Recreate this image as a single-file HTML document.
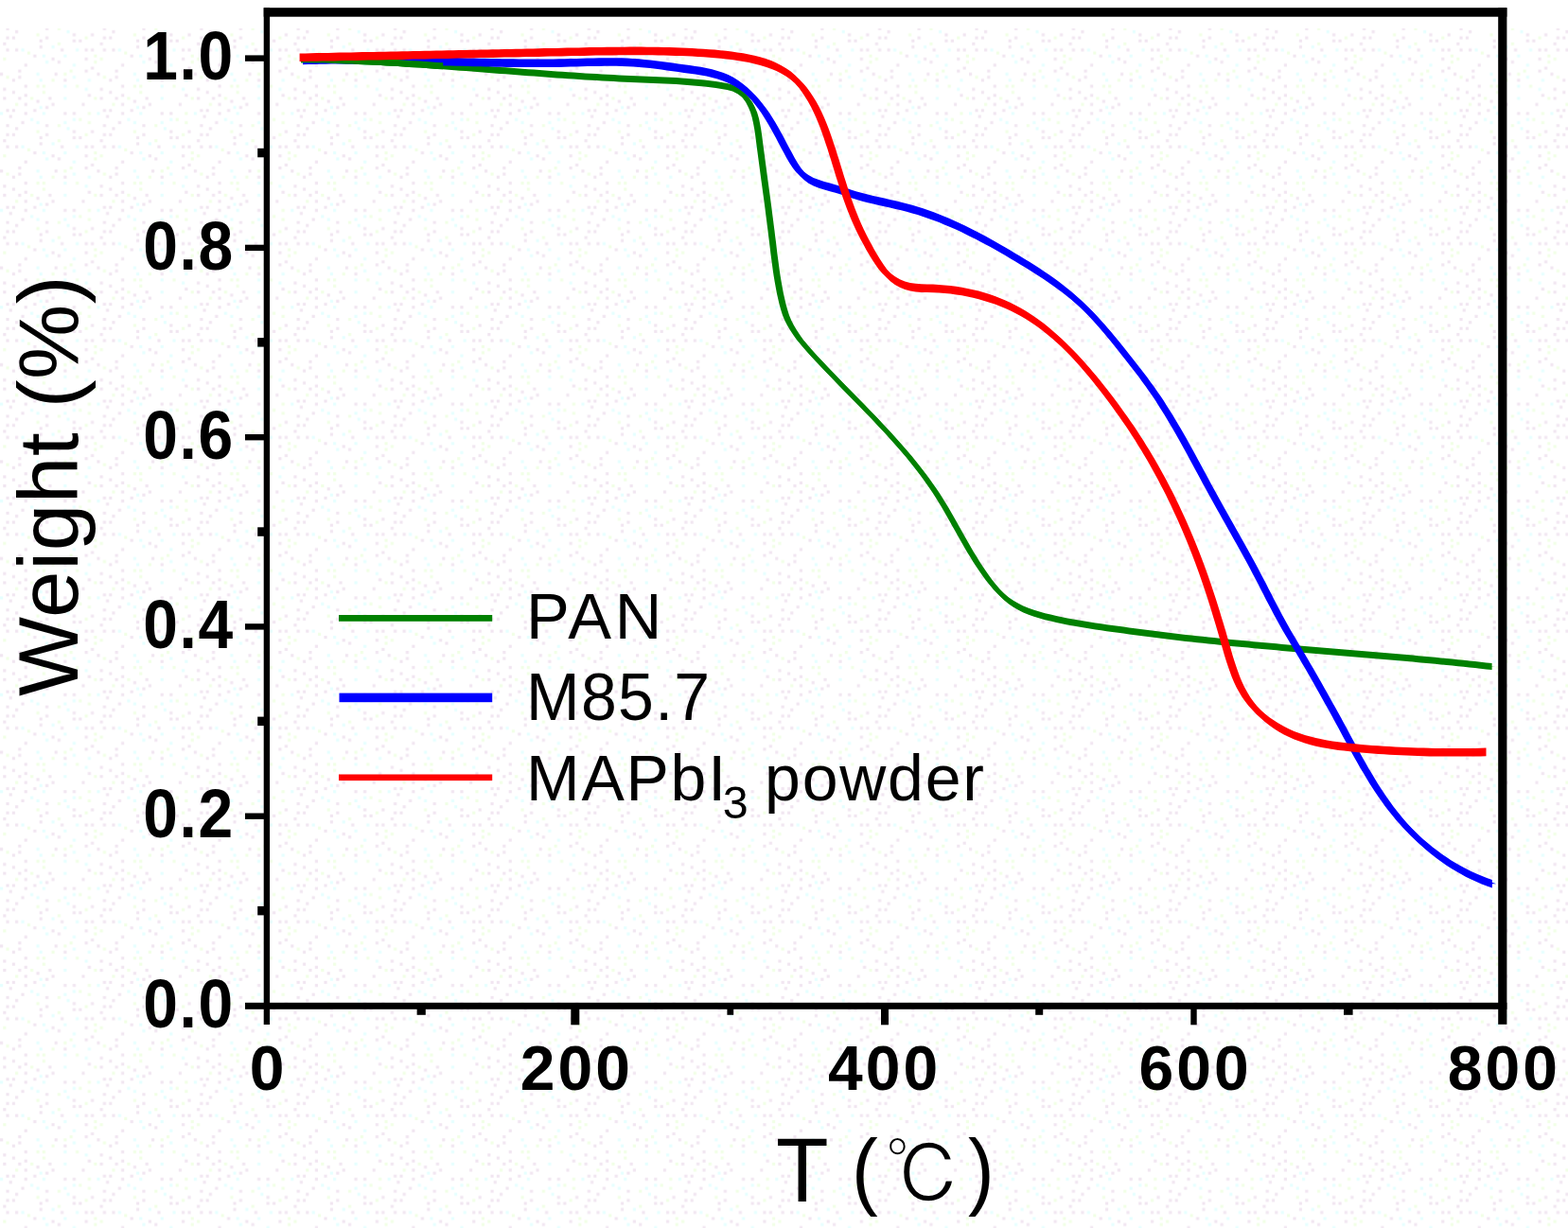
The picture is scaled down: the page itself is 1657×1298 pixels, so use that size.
<!DOCTYPE html>
<html lang="en">
<head>
<meta charset="utf-8">
<title>TGA weight vs temperature</title>
<style>
html,body{margin:0;padding:0;background:#fff}
body{width:1657px;height:1298px;overflow:hidden}
svg{display:block}
text{font-family:"Liberation Sans",sans-serif;fill:#000}
.b{font-weight:bold}
.c{font-family:"Liberation Sans","IPAGothic",sans-serif}
</style>
</head>
<body>
<svg width="1657" height="1298" viewBox="0 0 1657 1298">
<rect width="1657" height="1298" fill="#fff"/>
<defs><pattern id="dz" width="102.4" height="102.4" patternUnits="userSpaceOnUse"><rect x="89.6" y="92.8" width="3.2" height="3.2" fill="#e6ffff"/><rect x="38.4" y="35.2" width="3.2" height="3.2" fill="#f1ffe6"/><rect x="96" y="35.2" width="3.2" height="3.2" fill="#f1e6f1"/><rect x="89.6" y="60.8" width="3.2" height="3.2" fill="#f1e6f1"/><rect x="16" y="6.4" width="3.2" height="3.2" fill="#f1ffe6"/><rect x="80" y="89.6" width="3.2" height="3.2" fill="#f1ffe6"/><rect x="32" y="0" width="3.2" height="3.2" fill="#f1ffe6"/><rect x="6.4" y="38.4" width="3.2" height="3.2" fill="#f1e6f1"/><rect x="3.2" y="92.8" width="3.2" height="3.2" fill="#f1e6f1"/><rect x="89.6" y="38.4" width="3.2" height="3.2" fill="#f1ffe6"/><rect x="44.8" y="57.6" width="3.2" height="3.2" fill="#e6ffff"/><rect x="0" y="16" width="3.2" height="3.2" fill="#e6ffff"/><rect x="54.4" y="83.2" width="3.2" height="3.2" fill="#f1ffe6"/><rect x="16" y="51.2" width="3.2" height="3.2" fill="#f1e6f1"/><rect x="19.2" y="80" width="3.2" height="3.2" fill="#f1e6f1"/><rect x="57.6" y="76.8" width="3.2" height="3.2" fill="#f1e6f1"/><rect x="3.2" y="0" width="3.2" height="3.2" fill="#f1e6f1"/><rect x="41.6" y="9.6" width="3.2" height="3.2" fill="#e6ffff"/><rect x="76.8" y="80" width="3.2" height="3.2" fill="#e6ffff"/><rect x="12.8" y="38.4" width="3.2" height="3.2" fill="#f1e6f1"/><rect x="67.2" y="16" width="3.2" height="3.2" fill="#f1e6f1"/><rect x="67.2" y="0" width="3.2" height="3.2" fill="#e6ffff"/><rect x="22.4" y="25.6" width="3.2" height="3.2" fill="#f1e6f1"/><rect x="19.2" y="0" width="3.2" height="3.2" fill="#f1e6f1"/><rect x="92.8" y="99.2" width="3.2" height="3.2" fill="#f1e6f1"/><rect x="38.4" y="89.6" width="3.2" height="3.2" fill="#f1ffe6"/><rect x="38.4" y="25.6" width="3.2" height="3.2" fill="#e6ffff"/><rect x="76.8" y="22.4" width="3.2" height="3.2" fill="#e6ffff"/><rect x="83.2" y="41.6" width="3.2" height="3.2" fill="#f1e6f1"/><rect x="54.4" y="60.8" width="3.2" height="3.2" fill="#f1e6f1"/><rect x="6.4" y="28.8" width="3.2" height="3.2" fill="#f1e6f1"/><rect x="89.6" y="51.2" width="3.2" height="3.2" fill="#f1e6f1"/><rect x="67.2" y="57.6" width="3.2" height="3.2" fill="#e6ffff"/><rect x="12.8" y="12.8" width="3.2" height="3.2" fill="#f1e6f1"/><rect x="41.6" y="48" width="3.2" height="3.2" fill="#f1e6f1"/><rect x="73.6" y="73.6" width="3.2" height="3.2" fill="#f1ffe6"/><rect x="92.8" y="25.6" width="3.2" height="3.2" fill="#f1ffe6"/><rect x="76.8" y="35.2" width="3.2" height="3.2" fill="#f1e6f1"/><rect x="60.8" y="44.8" width="3.2" height="3.2" fill="#f1ffe6"/><rect x="48" y="38.4" width="3.2" height="3.2" fill="#f1e6f1"/><rect x="38.4" y="76.8" width="3.2" height="3.2" fill="#e6ffff"/><rect x="9.6" y="19.2" width="3.2" height="3.2" fill="#f1e6f1"/><rect x="6.4" y="51.2" width="3.2" height="3.2" fill="#f1e6f1"/><rect x="80" y="51.2" width="3.2" height="3.2" fill="#e6ffff"/><rect x="99.2" y="57.6" width="3.2" height="3.2" fill="#f1ffe6"/><rect x="35.2" y="12.8" width="3.2" height="3.2" fill="#f1e6f1"/><rect x="44.8" y="96" width="3.2" height="3.2" fill="#f1ffe6"/><rect x="41.6" y="41.6" width="3.2" height="3.2" fill="#f1e6f1"/><rect x="48" y="9.6" width="3.2" height="3.2" fill="#f1e6f1"/><rect x="35.2" y="57.6" width="3.2" height="3.2" fill="#f1e6f1"/><rect x="25.6" y="16" width="3.2" height="3.2" fill="#f1e6f1"/><rect x="25.6" y="89.6" width="3.2" height="3.2" fill="#f1e6f1"/><rect x="25.6" y="6.4" width="3.2" height="3.2" fill="#f1e6f1"/><rect x="96" y="70.4" width="3.2" height="3.2" fill="#f1e6f1"/><rect x="12.8" y="96" width="3.2" height="3.2" fill="#f1e6f1"/><rect x="60.8" y="64" width="3.2" height="3.2" fill="#f1e6f1"/><rect x="89.6" y="73.6" width="3.2" height="3.2" fill="#f1e6f1"/><rect x="25.6" y="67.2" width="3.2" height="3.2" fill="#f1e6f1"/><rect x="12.8" y="83.2" width="3.2" height="3.2" fill="#f1e6f1"/><rect x="99.2" y="0" width="3.2" height="3.2" fill="#f1ffe6"/><rect x="22.4" y="51.2" width="3.2" height="3.2" fill="#e6ffff"/><rect x="67.2" y="76.8" width="3.2" height="3.2" fill="#f1ffe6"/><rect x="92.8" y="16" width="3.2" height="3.2" fill="#f1ffe6"/><rect x="3.2" y="60.8" width="3.2" height="3.2" fill="#f1ffe6"/><rect x="3.2" y="44.8" width="3.2" height="3.2" fill="#f1e6f1"/><rect x="51.2" y="0" width="3.2" height="3.2" fill="#f1e6f1"/><rect x="60.8" y="28.8" width="3.2" height="3.2" fill="#f1ffe6"/><rect x="67.2" y="89.6" width="3.2" height="3.2" fill="#e6ffff"/><rect x="48" y="64" width="3.2" height="3.2" fill="#e6ffff"/><rect x="25.6" y="99.2" width="3.2" height="3.2" fill="#f1e6f1"/><rect x="6.4" y="12.8" width="3.2" height="3.2" fill="#f1e6f1"/><rect x="32" y="22.4" width="3.2" height="3.2" fill="#e6ffff"/><rect x="41.6" y="83.2" width="3.2" height="3.2" fill="#e6ffff"/><rect x="99.2" y="64" width="3.2" height="3.2" fill="#f1ffe6"/><rect x="54.4" y="6.4" width="3.2" height="3.2" fill="#f1e6f1"/><rect x="38.4" y="3.2" width="3.2" height="3.2" fill="#f1e6f1"/><rect x="48" y="28.8" width="3.2" height="3.2" fill="#f1e6f1"/><rect x="19.2" y="73.6" width="3.2" height="3.2" fill="#f1e6f1"/><rect x="96" y="51.2" width="3.2" height="3.2" fill="#f1e6f1"/><rect x="70.4" y="32" width="3.2" height="3.2" fill="#e6ffff"/><rect x="44.8" y="16" width="3.2" height="3.2" fill="#e6ffff"/><rect x="76.8" y="67.2" width="3.2" height="3.2" fill="#e6ffff"/><rect x="76.8" y="16" width="3.2" height="3.2" fill="#f1e6f1"/><rect x="64" y="51.2" width="3.2" height="3.2" fill="#f1e6f1"/><rect x="67.2" y="83.2" width="3.2" height="3.2" fill="#f1e6f1"/><rect x="86.4" y="6.4" width="3.2" height="3.2" fill="#f1e6f1"/><rect x="67.2" y="25.6" width="3.2" height="3.2" fill="#e6ffff"/><rect x="44.8" y="89.6" width="3.2" height="3.2" fill="#f1ffe6"/><rect x="76.8" y="41.6" width="3.2" height="3.2" fill="#f1e6f1"/><rect x="28.8" y="54.4" width="3.2" height="3.2" fill="#f1ffe6"/><rect x="83.2" y="22.4" width="3.2" height="3.2" fill="#f1ffe6"/><rect x="0" y="76.8" width="3.2" height="3.2" fill="#f1e6f1"/><rect x="6.4" y="80" width="3.2" height="3.2" fill="#f1ffe6"/><rect x="16" y="32" width="3.2" height="3.2" fill="#f1e6f1"/><rect x="92.8" y="83.2" width="3.2" height="3.2" fill="#e6ffff"/><rect x="54.4" y="48" width="3.2" height="3.2" fill="#e6ffff"/></pattern></defs><rect x="0" y="30" width="1657" height="1268" fill="url(#dz)"/>
<g>
<g fill="#008000"><path d="M318 59.2L324 59.3L330 59.4L336.1 59.5L342.1 59.6L348.1 59.8L354.1 60L360.1 60.2L366.1 60.4L372.2 60.6L378.2 60.9L384.2 61.2L390.2 61.5L396.2 61.8L402.2 62.1L408.2 62.4L414.2 62.8L420.2 63.1L426.2 63.5L432.2 63.9L438.2 64.2L444.2 64.6L450.2 65.1L456.2 65.5L462.2 65.9L468.2 66.3L474.2 66.8L480.2 67.2L486.2 67.7L492.2 68.1L498.2 68.6L504.2 69L510.2 69.5L516.2 69.9L522.2 70.4L528.2 70.9L534.2 71.3L540.2 71.8L546.2 72.3L552.2 72.7L558.2 73.2L564.2 73.6L570.2 74.1L576.2 74.5L582.2 74.9L588.2 75.4L594.3 75.8L600.3 76.2L606.3 76.6L612.3 77L618.3 77.4L624.3 77.7L630.3 78.1L636.3 78.5L642.3 78.8L648.3 79.1L654.3 79.4L660.3 79.7L666.4 80L672.4 80.3L678.4 80.5L684.4 80.7L690.4 81L696.4 81.2L702.5 81.5L708.5 81.8L714.5 82.1L720.5 82.5L726.5 82.9L732.5 83.4L738.5 83.9L744.5 84.6L750.4 85.3L756.4 86.1L762.4 87L768.3 88.1L774.1 89.6L779.5 92.2L784.3 95.8L788.4 100L791.7 104.8L794.4 109.9L796.6 115.3L798.3 121L799.6 126.9L800.7 133L801.6 139.1L802.4 145.3L803.2 151.4L804 157.5L804.8 163.5L805.6 169.5L806.4 175.5L807.2 181.4L808 187.4L808.8 193.3L809.6 199.2L810.4 205.1L811.2 211L812 216.9L812.7 222.8L813.5 228.7L814.2 234.6L815 240.5L815.7 246.5L816.5 252.4L817.2 258.4L817.9 264.4L818.7 270.4L819.5 276.4L820.3 282.4L821.2 288.5L822.2 294.4L823.3 300.4L824.4 306.4L825.7 312.3L827.1 318.2L828.7 324L830.5 329.7L832.8 335.2L835.5 340.5L838.5 345.6L841.8 350.6L845.3 355.4L849.1 360.1L853.1 364.7L857.1 369.3L861.2 373.7L865.4 378.2L869.5 382.5L873.7 386.9L877.8 391.2L882 395.6L886.2 399.9L890.3 404.2L894.5 408.4L898.7 412.7L902.9 417L907.1 421.3L911.3 425.6L915.5 429.9L919.7 434.3L923.9 438.6L928 443L932.2 447.4L936.3 451.8L940.4 456.2L944.4 460.7L948.4 465.2L952.4 469.7L956.3 474.2L960.2 478.8L964 483.5L967.8 488.2L971.5 492.9L975.2 497.7L978.7 502.5L982.2 507.4L985.6 512.3L989 517.3L992.2 522.3L995.4 527.4L998.5 532.6L1001.5 537.8L1004.5 543L1007.5 548.2L1010.4 553.5L1013.4 558.7L1016.3 564L1019.3 569.2L1022.3 574.5L1025.3 579.7L1028.5 584.8L1031.6 590L1034.9 595L1038.3 600.1L1041.8 605L1045.4 609.9L1049.1 614.6L1053 619.2L1057.1 623.6L1061.5 627.7L1066.1 631.4L1070.9 634.8L1076.1 637.8L1081.4 640.4L1087 642.7L1092.7 644.7L1098.5 646.6L1104.4 648.2L1110.3 649.6L1116.3 651L1122.2 652.3L1128.1 653.5L1134 654.6L1139.9 655.6L1145.8 656.6L1151.8 657.6L1157.7 658.5L1163.6 659.3L1169.5 660.2L1175.4 661L1181.4 661.8L1187.3 662.6L1193.3 663.4L1199.3 664.2L1205.2 665L1211.2 665.8L1217.2 666.6L1223.2 667.3L1229.1 668L1235.1 668.8L1241.1 669.5L1247.1 670.2L1253.1 670.9L1259.1 671.5L1265 672.2L1271 672.8L1277 673.5L1283 674.1L1289 674.7L1295 675.3L1301 675.9L1307 676.5L1312.9 677.1L1318.9 677.6L1324.9 678.2L1330.9 678.7L1336.9 679.3L1342.9 679.8L1348.9 680.3L1354.9 680.9L1360.9 681.4L1366.9 681.9L1372.9 682.4L1378.9 682.9L1384.9 683.4L1390.9 683.9L1396.8 684.4L1402.8 684.9L1408.8 685.4L1414.8 685.9L1420.8 686.4L1426.8 686.9L1432.8 687.4L1438.8 687.9L1444.8 688.5L1450.8 689L1456.8 689.5L1462.8 690L1468.8 690.5L1474.8 691L1480.8 691.6L1486.8 692.1L1492.8 692.6L1498.8 693.2L1504.7 693.7L1510.7 694.3L1516.7 694.8L1522.7 695.4L1528.7 696L1534.7 696.6L1540.7 697.2L1546.7 697.8L1552.7 698.4L1558.6 699.1L1564.6 699.7L1570.6 700.4L1576.6 701.1L1576.6 708.1L1570.6 707.4L1564.6 706.7L1558.6 706.1L1552.7 705.4L1546.7 704.8L1540.7 704.2L1534.7 703.6L1528.7 703L1522.7 702.4L1516.7 701.8L1510.7 701.3L1504.7 700.7L1498.8 700.2L1492.8 699.6L1486.8 699.1L1480.8 698.6L1474.8 698L1468.8 697.5L1462.8 697L1456.8 696.5L1450.8 696L1444.8 695.5L1438.8 694.9L1432.8 694.4L1426.8 693.9L1420.8 693.4L1414.8 692.9L1408.8 692.4L1402.8 691.9L1396.8 691.4L1390.9 690.9L1384.9 690.4L1378.9 689.9L1372.9 689.4L1366.9 688.9L1360.9 688.4L1354.9 687.9L1348.9 687.3L1342.9 686.8L1336.9 686.3L1330.9 685.7L1324.9 685.2L1318.9 684.6L1312.9 684.1L1307 683.5L1301 682.9L1295 682.3L1289 681.7L1283 681.1L1277 680.5L1271 679.8L1265 679.2L1259.1 678.5L1253.1 677.9L1247.1 677.2L1241.1 676.5L1235.1 675.8L1229.1 675L1223.2 674.3L1217.2 673.6L1211.2 672.8L1205.2 672L1199.3 671.2L1193.3 670.4L1187.3 669.6L1181.4 668.8L1175.4 668L1169.5 667.2L1163.6 666.3L1157.7 665.5L1151.8 664.6L1145.8 663.6L1139.9 662.6L1134 661.6L1128.1 660.5L1122.2 659.3L1116.3 658L1110.3 656.6L1104.4 655.2L1098.5 653.6L1092.7 651.7L1087 649.7L1081.4 647.4L1076.1 644.8L1070.9 641.8L1066.1 638.4L1061.5 634.7L1057.1 630.6L1053 626.2L1049.1 621.6L1045.4 616.9L1041.8 612L1038.3 607.1L1034.9 602L1031.6 597L1028.5 591.8L1025.3 586.7L1022.3 581.5L1019.3 576.2L1016.3 571L1013.4 565.7L1010.4 560.5L1007.5 555.2L1004.5 550L1001.5 544.8L998.5 539.6L995.4 534.4L992.2 529.3L989 524.3L985.6 519.3L982.2 514.4L978.7 509.5L975.2 504.7L971.5 499.9L967.8 495.2L964 490.5L960.2 485.8L956.3 481.2L952.4 476.7L948.4 472.2L944.4 467.7L940.4 463.2L936.3 458.8L932.2 454.4L928 450L923.9 445.6L919.7 441.3L915.5 436.9L911.3 432.6L907.1 428.3L902.9 424L898.7 419.7L894.5 415.4L890.3 411.2L886.2 406.9L882 402.6L877.8 398.2L873.7 393.9L869.5 389.5L865.4 385.2L861.2 380.7L857.1 376.3L853.1 371.7L849.1 367.1L845.3 362.4L841.8 357.6L838.5 352.6L835.5 347.5L832.8 342.2L830.5 336.7L828.7 331L827.1 325.2L825.7 319.3L824.4 313.4L823.3 307.4L822.2 301.4L821.2 295.5L820.3 289.4L819.5 283.4L818.7 277.4L817.9 271.4L817.2 265.4L816.5 259.4L815.7 253.5L815 247.5L814.2 241.6L813.5 235.7L812.7 229.8L812 223.9L811.2 218L810.4 212.1L809.6 206.2L808.8 200.3L808 194.4L807.2 188.4L806.4 182.5L805.6 176.5L804.8 170.5L804 164.5L803.2 158.4L802.4 152.3L801.6 146.1L800.7 140L799.6 133.9L798.3 128L796.6 122.3L794.4 116.9L791.7 111.8L788.4 107L784.3 102.8L779.5 99.2L774.1 96.6L768.3 95.1L762.4 94L756.4 93.1L750.4 92.3L744.5 91.6L738.5 90.9L732.5 90.4L726.5 89.9L720.5 89.5L714.5 89.1L708.5 88.8L702.5 88.5L696.4 88.2L690.4 88L684.4 87.7L678.4 87.5L672.4 87.3L666.4 87L660.3 86.7L654.3 86.4L648.3 86.1L642.3 85.8L636.3 85.5L630.3 85.1L624.3 84.7L618.3 84.4L612.3 84L606.3 83.6L600.3 83.2L594.3 82.8L588.2 82.4L582.2 81.9L576.2 81.5L570.2 81.1L564.2 80.6L558.2 80.2L552.2 79.7L546.2 79.3L540.2 78.8L534.2 78.3L528.2 77.9L522.2 77.4L516.2 76.9L510.2 76.5L504.2 76L498.2 75.6L492.2 75.1L486.2 74.7L480.2 74.2L474.2 73.8L468.2 73.3L462.2 72.9L456.2 72.5L450.2 72.1L444.2 71.6L438.2 71.2L432.2 70.9L426.2 70.5L420.2 70.1L414.2 69.8L408.2 69.4L402.2 69.1L396.2 68.8L390.2 68.5L384.2 68.2L378.2 67.9L372.2 67.6L366.1 67.4L360.1 67.2L354.1 67L348.1 66.8L342.1 66.6L336.1 66.5L330 66.4L324 66.3L318 66.2Z"/><path d="M314.5 62.7L320.5 62.8L326.5 62.9L332.6 63L338.6 63.1L344.6 63.3L350.6 63.5L356.6 63.7L362.6 63.9L368.7 64.1L374.7 64.4L380.7 64.7L386.7 65L392.7 65.3L398.7 65.6L404.7 65.9L410.7 66.3L416.7 66.6L422.7 67L428.7 67.4L434.7 67.7L440.7 68.1L446.7 68.6L452.7 69L458.7 69.4L464.7 69.8L470.7 70.3L476.7 70.7L482.7 71.2L488.7 71.6L494.7 72.1L500.7 72.5L506.7 73L512.7 73.4L518.7 73.9L524.7 74.4L530.7 74.8L536.7 75.3L542.7 75.8L548.7 76.2L554.7 76.7L560.7 77.1L566.7 77.6L572.7 78L578.7 78.4L584.7 78.9L590.8 79.3L596.8 79.7L602.8 80.1L608.8 80.5L614.8 80.9L620.8 81.2L626.8 81.6L632.8 82L638.8 82.3L644.8 82.6L650.8 82.9L656.8 83.2L662.9 83.5L668.9 83.8L674.9 84L680.9 84.2L686.9 84.5L692.9 84.7L699 85L705 85.3L711 85.6L717 86L723 86.4L729 86.9L735 87.4L741 88.1L746.9 88.8L752.9 89.6L758.9 90.5L764.8 91.6L770.6 93.1L776 95.7L780.8 99.3L784.9 103.5L788.2 108.3L790.9 113.4L793.1 118.8L794.8 124.5L796.1 130.4L797.2 136.5L798.1 142.6L798.9 148.8L799.7 154.9L800.5 161L801.3 167L802.1 173L802.9 179L803.7 184.9L804.5 190.9L805.3 196.8L806.1 202.7L806.9 208.6L807.7 214.5L808.5 220.4L809.2 226.3L810 232.2L810.7 238.1L811.5 244L812.2 250L813 255.9L813.7 261.9L814.4 267.9L815.2 273.9L816 279.9L816.8 285.9L817.7 292L818.7 297.9L819.8 303.9L820.9 309.9L822.2 315.8L823.6 321.7L825.2 327.5L827 333.2L829.3 338.7L832 344L835 349.1L838.3 354.1L841.8 358.9L845.6 363.6L849.6 368.2L853.6 372.8L857.7 377.2L861.9 381.7L866 386L870.2 390.4L874.3 394.7L878.5 399.1L882.7 403.4L886.8 407.7L891 411.9L895.2 416.2L899.4 420.5L903.6 424.8L907.8 429.1L912 433.4L916.2 437.8L920.4 442.1L924.5 446.5L928.7 450.9L932.8 455.3L936.9 459.7L940.9 464.2L944.9 468.7L948.9 473.2L952.8 477.7L956.7 482.3L960.5 487L964.3 491.7L968 496.4L971.7 501.2L975.2 506L978.7 510.9L982.1 515.8L985.5 520.8L988.7 525.8L991.9 530.9L995 536.1L998 541.3L1001 546.5L1004 551.7L1006.9 557L1009.9 562.2L1012.8 567.5L1015.8 572.7L1018.8 578L1021.8 583.2L1025 588.3L1028.1 593.5L1031.4 598.5L1034.8 603.6L1038.3 608.5L1041.9 613.4L1045.6 618.1L1049.5 622.7L1053.6 627.1L1058 631.2L1062.6 634.9L1067.4 638.3L1072.6 641.3L1077.9 643.9L1083.5 646.2L1089.2 648.2L1095 650.1L1100.9 651.7L1106.8 653.1L1112.8 654.5L1118.7 655.8L1124.6 657L1130.5 658.1L1136.4 659.1L1142.3 660.1L1148.3 661.1L1154.2 662L1160.1 662.8L1166 663.7L1171.9 664.5L1177.9 665.3L1183.8 666.1L1189.8 666.9L1195.8 667.7L1201.7 668.5L1207.7 669.3L1213.7 670.1L1219.7 670.8L1225.6 671.5L1231.6 672.3L1237.6 673L1243.6 673.7L1249.6 674.4L1255.6 675L1261.5 675.7L1267.5 676.3L1273.5 677L1279.5 677.6L1285.5 678.2L1291.5 678.8L1297.5 679.4L1303.5 680L1309.4 680.6L1315.4 681.1L1321.4 681.7L1327.4 682.2L1333.4 682.8L1339.4 683.3L1345.4 683.8L1351.4 684.4L1357.4 684.9L1363.4 685.4L1369.4 685.9L1375.4 686.4L1381.4 686.9L1387.4 687.4L1393.3 687.9L1399.3 688.4L1405.3 688.9L1411.3 689.4L1417.3 689.9L1423.3 690.4L1429.3 690.9L1435.3 691.4L1441.3 692L1447.3 692.5L1453.3 693L1459.3 693.5L1465.3 694L1471.3 694.5L1477.3 695.1L1483.3 695.6L1489.3 696.1L1495.3 696.7L1501.2 697.2L1507.2 697.8L1513.2 698.3L1519.2 698.9L1525.2 699.5L1531.2 700.1L1537.2 700.7L1543.2 701.3L1549.2 701.9L1555.1 702.6L1561.1 703.2L1567.1 703.9L1573.1 704.6L1580.1 704.6L1574.1 703.9L1568.1 703.2L1562.1 702.6L1556.2 701.9L1550.2 701.3L1544.2 700.7L1538.2 700.1L1532.2 699.5L1526.2 698.9L1520.2 698.3L1514.2 697.8L1508.2 697.2L1502.3 696.7L1496.3 696.1L1490.3 695.6L1484.3 695.1L1478.3 694.5L1472.3 694L1466.3 693.5L1460.3 693L1454.3 692.5L1448.3 692L1442.3 691.4L1436.3 690.9L1430.3 690.4L1424.3 689.9L1418.3 689.4L1412.3 688.9L1406.3 688.4L1400.3 687.9L1394.4 687.4L1388.4 686.9L1382.4 686.4L1376.4 685.9L1370.4 685.4L1364.4 684.9L1358.4 684.4L1352.4 683.8L1346.4 683.3L1340.4 682.8L1334.4 682.2L1328.4 681.7L1322.4 681.1L1316.4 680.6L1310.5 680L1304.5 679.4L1298.5 678.8L1292.5 678.2L1286.5 677.6L1280.5 677L1274.5 676.3L1268.5 675.7L1262.6 675L1256.6 674.4L1250.6 673.7L1244.6 673L1238.6 672.3L1232.6 671.5L1226.7 670.8L1220.7 670.1L1214.7 669.3L1208.7 668.5L1202.8 667.7L1196.8 666.9L1190.8 666.1L1184.9 665.3L1178.9 664.5L1173 663.7L1167.1 662.8L1161.2 662L1155.3 661.1L1149.3 660.1L1143.4 659.1L1137.5 658.1L1131.6 657L1125.7 655.8L1119.8 654.5L1113.8 653.1L1107.9 651.7L1102 650.1L1096.2 648.2L1090.5 646.2L1084.9 643.9L1079.6 641.3L1074.4 638.3L1069.6 634.9L1065 631.2L1060.6 627.1L1056.5 622.7L1052.6 618.1L1048.9 613.4L1045.3 608.5L1041.8 603.6L1038.4 598.5L1035.1 593.5L1032 588.3L1028.8 583.2L1025.8 578L1022.8 572.7L1019.8 567.5L1016.9 562.2L1013.9 557L1011 551.7L1008 546.5L1005 541.3L1002 536.1L998.9 530.9L995.7 525.8L992.5 520.8L989.1 515.8L985.7 510.9L982.2 506L978.7 501.2L975 496.4L971.3 491.7L967.5 487L963.7 482.3L959.8 477.7L955.9 473.2L951.9 468.7L947.9 464.2L943.9 459.7L939.8 455.3L935.7 450.9L931.5 446.5L927.4 442.1L923.2 437.8L919 433.4L914.8 429.1L910.6 424.8L906.4 420.5L902.2 416.2L898 411.9L893.8 407.7L889.7 403.4L885.5 399.1L881.3 394.7L877.2 390.4L873 386L868.9 381.7L864.7 377.2L860.6 372.8L856.6 368.2L852.6 363.6L848.8 358.9L845.3 354.1L842 349.1L839 344L836.3 338.7L834 333.2L832.2 327.5L830.6 321.7L829.2 315.8L827.9 309.9L826.8 303.9L825.7 297.9L824.7 292L823.8 285.9L823 279.9L822.2 273.9L821.4 267.9L820.7 261.9L820 255.9L819.2 250L818.5 244L817.7 238.1L817 232.2L816.2 226.3L815.5 220.4L814.7 214.5L813.9 208.6L813.1 202.7L812.3 196.8L811.5 190.9L810.7 184.9L809.9 179L809.1 173L808.3 167L807.5 161L806.7 154.9L805.9 148.8L805.1 142.6L804.2 136.5L803.1 130.4L801.8 124.5L800.1 118.8L797.9 113.4L795.2 108.3L791.9 103.5L787.8 99.3L783 95.7L777.6 93.1L771.8 91.6L765.9 90.5L759.9 89.6L753.9 88.8L748 88.1L742 87.4L736 86.9L730 86.4L724 86L718 85.6L712 85.3L706 85L699.9 84.7L693.9 84.5L687.9 84.2L681.9 84L675.9 83.8L669.9 83.5L663.8 83.2L657.8 82.9L651.8 82.6L645.8 82.3L639.8 82L633.8 81.6L627.8 81.2L621.8 80.9L615.8 80.5L609.8 80.1L603.8 79.7L597.8 79.3L591.7 78.9L585.7 78.4L579.7 78L573.7 77.6L567.7 77.1L561.7 76.7L555.7 76.2L549.7 75.8L543.7 75.3L537.7 74.8L531.7 74.4L525.7 73.9L519.7 73.4L513.7 73L507.7 72.5L501.7 72.1L495.7 71.6L489.7 71.2L483.7 70.7L477.7 70.3L471.7 69.8L465.7 69.4L459.7 69L453.7 68.6L447.7 68.1L441.7 67.7L435.7 67.4L429.7 67L423.7 66.6L417.7 66.3L411.7 65.9L405.7 65.6L399.7 65.3L393.7 65L387.7 64.7L381.7 64.4L375.7 64.1L369.6 63.9L363.6 63.7L357.6 63.5L351.6 63.3L345.6 63.1L339.6 63L333.5 62.9L327.5 62.8L321.5 62.7Z"/></g>
<g fill="#0000ff"><path d="M320 59.7L326 59.5L332.1 59.3L338.1 59.2L344.1 59.1L350.1 59L356.2 58.9L362.2 58.9L368.2 58.9L374.2 58.9L380.2 58.9L386.3 59L392.3 59L398.3 59.1L404.3 59.2L410.3 59.3L416.3 59.4L422.3 59.5L428.4 59.7L434.4 59.8L440.4 59.9L446.4 60.1L452.4 60.3L458.4 60.4L464.4 60.6L470.4 60.8L476.5 60.9L482.5 61.1L488.5 61.2L494.5 61.4L500.5 61.6L506.5 61.7L512.5 61.8L518.5 62L524.6 62.1L530.6 62.2L536.6 62.3L542.6 62.3L548.6 62.4L554.7 62.4L560.7 62.5L566.7 62.5L572.7 62.5L578.7 62.4L584.8 62.4L590.8 62.3L596.8 62.2L602.9 62L608.9 61.9L614.9 61.7L621 61.5L627 61.4L633 61.3L639 61.2L645.1 61.2L651.1 61.2L657.1 61.3L663.1 61.6L669.1 61.9L675.1 62.3L681 62.9L687 63.5L693 64.2L698.9 65L704.9 65.8L710.9 66.6L716.8 67.5L722.8 68.3L728.8 69.1L734.8 69.9L740.7 70.8L746.6 71.9L752.5 73.3L758.3 74.9L764 76.8L769.6 79.1L775 81.8L780.1 84.9L784.9 88.5L789.5 92.3L793.9 96.5L798 100.9L801.8 105.6L805.5 110.4L808.9 115.3L812.2 120.4L815.3 125.5L818.3 130.7L821.2 136L824.1 141.2L826.9 146.6L829.7 151.9L832.6 157.3L835.5 162.7L838.6 167.9L841.9 172.9L845.6 177.6L849.8 181.7L854.4 185.1L859.7 187.9L865.3 190.1L871.1 191.9L877 193.6L882.8 195.2L888.6 196.9L894.2 198.7L899.8 200.7L905.4 202.5L911.2 204.1L917 205.6L922.8 207L928.7 208.3L934.6 209.6L940.5 210.9L946.4 212.3L952.3 213.7L958.1 215.2L964 216.8L969.7 218.5L975.4 220.3L981.1 222.3L986.8 224.3L992.4 226.5L997.9 228.8L1003.5 231.1L1008.9 233.5L1014.4 236L1019.8 238.6L1025.2 241.3L1030.6 244L1036 246.8L1041.3 249.6L1046.6 252.5L1051.9 255.5L1057.1 258.5L1062.4 261.5L1067.6 264.6L1072.8 267.7L1078 270.8L1083.2 273.9L1088.3 277.1L1093.4 280.3L1098.5 283.6L1103.5 287L1108.5 290.3L1113.5 293.8L1118.3 297.3L1123.1 301L1127.8 304.7L1132.5 308.5L1137 312.4L1141.5 316.4L1145.8 320.5L1150.1 324.7L1154.2 329L1158.3 333.4L1162.4 337.9L1166.3 342.4L1170.2 347L1174.1 351.6L1177.9 356.3L1181.7 361L1185.5 365.7L1189.2 370.5L1193 375.2L1196.7 380L1200.4 384.7L1204.1 389.5L1207.8 394.3L1211.3 399.1L1214.9 404L1218.3 408.9L1221.7 413.8L1225.1 418.8L1228.3 423.9L1231.5 428.9L1234.7 434L1237.8 439.2L1240.9 444.4L1243.9 449.5L1246.9 454.8L1249.9 460L1252.8 465.3L1255.7 470.5L1258.6 475.8L1261.5 481.1L1264.4 486.4L1267.2 491.7L1270.1 497L1272.9 502.3L1275.8 507.6L1278.7 512.9L1281.6 518.2L1284.5 523.5L1287.4 528.7L1290.3 534L1293.3 539.2L1296.2 544.5L1299.2 549.7L1302.1 554.9L1305.1 560.2L1308 565.4L1311 570.7L1313.9 575.9L1316.8 581.2L1319.7 586.5L1322.6 591.8L1325.4 597L1328.2 602.4L1331 607.7L1333.8 613L1336.5 618.4L1339.3 623.8L1342 629.1L1344.8 634.5L1347.6 639.8L1350.4 645.1L1353.3 650.4L1356.2 655.7L1359.1 660.9L1362.2 666.1L1365.2 671.2L1368.3 676.4L1371.4 681.6L1374.4 686.8L1377.5 691.9L1380.5 697.1L1383.5 702.3L1386.5 707.5L1389.5 712.7L1392.5 718L1395.4 723.2L1398.4 728.4L1401.3 733.7L1404.2 738.9L1407.2 744.2L1410.1 749.5L1413 754.7L1415.8 760L1418.7 765.3L1421.6 770.6L1424.4 776L1427.3 781.3L1430.2 786.6L1433.1 791.9L1436 797.1L1439 802.4L1441.9 807.6L1445 812.8L1448.1 817.9L1451.2 823.1L1454.4 828.1L1457.7 833.2L1461.1 838.1L1464.5 843L1468 847.9L1471.7 852.6L1475.4 857.3L1479.2 862L1483.2 866.5L1487.3 870.9L1491.5 875.3L1495.8 879.5L1500.2 883.7L1504.7 887.7L1509.3 891.6L1514 895.5L1518.8 899.1L1523.7 902.7L1528.6 906.1L1533.7 909.4L1538.8 912.5L1544.1 915.5L1549.3 918.3L1554.7 921L1560.2 923.5L1565.7 925.8L1571.2 927.9L1576.9 929.9L1576.9 938.5L1571.2 936.5L1565.7 934.4L1560.2 932.1L1554.7 929.6L1549.3 926.9L1544.1 924.1L1538.8 921.1L1533.7 918L1528.6 914.7L1523.7 911.3L1518.8 907.7L1514 904.1L1509.3 900.2L1504.7 896.3L1500.2 892.3L1495.8 888.1L1491.5 883.9L1487.3 879.5L1483.2 875.1L1479.2 870.6L1475.4 865.9L1471.7 861.2L1468 856.5L1464.5 851.6L1461.1 846.7L1457.7 841.8L1454.4 836.7L1451.2 831.7L1448.1 826.5L1445 821.4L1441.9 816.2L1439 811L1436 805.7L1433.1 800.5L1430.2 795.2L1427.3 789.9L1424.4 784.6L1421.6 779.2L1418.7 773.9L1415.8 768.6L1413 763.3L1410.1 758.1L1407.2 752.8L1404.2 747.5L1401.3 742.3L1398.4 737L1395.4 731.8L1392.5 726.6L1389.5 721.3L1386.5 716.1L1383.5 710.9L1380.5 705.7L1377.5 700.5L1374.4 695.4L1371.4 690.2L1368.3 685L1365.2 679.8L1362.2 674.7L1359.1 669.5L1356.2 664.3L1353.3 659L1350.4 653.7L1347.6 648.4L1344.8 643.1L1342 637.7L1339.3 632.4L1336.5 627L1333.8 621.6L1331 616.3L1328.2 611L1325.4 605.6L1322.6 600.4L1319.7 595.1L1316.8 589.8L1313.9 584.5L1311 579.3L1308 574L1305.1 568.8L1302.1 563.5L1299.2 558.3L1296.2 553.1L1293.3 547.8L1290.3 542.6L1287.4 537.3L1284.5 532.1L1281.6 526.8L1278.7 521.5L1275.8 516.2L1272.9 510.9L1270.1 505.6L1267.2 500.3L1264.4 495L1261.5 489.7L1258.6 484.4L1255.7 479.1L1252.8 473.9L1249.9 468.6L1246.9 463.4L1243.9 458.1L1240.9 453L1237.8 447.8L1234.7 442.6L1231.5 437.5L1228.3 432.5L1225.1 427.4L1221.7 422.4L1218.3 417.5L1214.9 412.6L1211.3 407.7L1207.8 402.9L1204.1 398.1L1200.4 393.3L1196.7 388.6L1193 383.8L1189.2 379.1L1185.5 374.3L1181.7 369.6L1177.9 364.9L1174.1 360.2L1170.2 355.6L1166.3 351L1162.4 346.5L1158.3 342L1154.2 337.6L1150.1 333.3L1145.8 329.1L1141.5 325L1137 321L1132.5 317.1L1127.8 313.3L1123.1 309.6L1118.3 305.9L1113.5 302.4L1108.5 298.9L1103.5 295.6L1098.5 292.2L1093.4 288.9L1088.3 285.7L1083.2 282.5L1078 279.4L1072.8 276.3L1067.6 273.2L1062.4 270.1L1057.1 267.1L1051.9 264.1L1046.6 261.1L1041.3 258.2L1036 255.4L1030.6 252.6L1025.2 249.9L1019.8 247.2L1014.4 244.6L1008.9 242.1L1003.5 239.7L997.9 237.4L992.4 235.1L986.8 232.9L981.1 230.9L975.4 228.9L969.7 227.1L964 225.4L958.1 223.8L952.3 222.3L946.4 220.9L940.5 219.5L934.6 218.2L928.7 216.9L922.8 215.6L917 214.2L911.2 212.7L905.4 211.1L899.8 209.3L894.2 207.3L888.6 205.5L882.8 203.8L877 202.2L871.1 200.5L865.3 198.7L859.7 196.5L854.4 193.7L849.8 190.3L845.6 186.2L841.9 181.5L838.6 176.5L835.5 171.3L832.6 165.9L829.7 160.5L826.9 155.2L824.1 149.8L821.2 144.6L818.3 139.3L815.3 134.1L812.2 129L808.9 123.9L805.5 119L801.8 114.2L798 109.5L793.9 105.1L789.5 100.9L784.9 97.1L780.1 93.5L775 90.4L769.6 87.7L764 85.4L758.3 83.5L752.5 81.9L746.6 80.5L740.7 79.4L734.8 78.5L728.8 77.7L722.8 76.9L716.8 76.1L710.9 75.2L704.9 74.4L698.9 73.6L693 72.8L687 72.1L681 71.5L675.1 70.9L669.1 70.5L663.1 70.2L657.1 69.9L651.1 69.8L645.1 69.8L639 69.8L633 69.9L627 70L621 70.1L614.9 70.3L608.9 70.5L602.9 70.6L596.8 70.8L590.8 70.9L584.8 71L578.7 71L572.7 71.1L566.7 71.1L560.7 71.1L554.7 71L548.6 71L542.6 70.9L536.6 70.9L530.6 70.8L524.6 70.7L518.5 70.6L512.5 70.4L506.5 70.3L500.5 70.2L494.5 70L488.5 69.8L482.5 69.7L476.5 69.5L470.4 69.4L464.4 69.2L458.4 69L452.4 68.9L446.4 68.7L440.4 68.5L434.4 68.4L428.4 68.3L422.3 68.1L416.3 68L410.3 67.9L404.3 67.8L398.3 67.7L392.3 67.6L386.3 67.6L380.2 67.5L374.2 67.5L368.2 67.5L362.2 67.5L356.2 67.5L350.1 67.6L344.1 67.7L338.1 67.8L332.1 67.9L326 68.1L320 68.3Z"/><path d="M315.7 64L321.7 63.8L327.8 63.6L333.8 63.5L339.8 63.4L345.8 63.3L351.9 63.2L357.9 63.2L363.9 63.2L369.9 63.2L375.9 63.2L382 63.3L388 63.3L394 63.4L400 63.5L406 63.6L412 63.7L418 63.8L424.1 64L430.1 64.1L436.1 64.2L442.1 64.4L448.1 64.6L454.1 64.7L460.1 64.9L466.1 65.1L472.2 65.2L478.2 65.4L484.2 65.5L490.2 65.7L496.2 65.9L502.2 66L508.2 66.1L514.2 66.3L520.3 66.4L526.3 66.5L532.3 66.6L538.3 66.6L544.3 66.7L550.4 66.7L556.4 66.8L562.4 66.8L568.4 66.8L574.4 66.7L580.5 66.7L586.5 66.6L592.5 66.5L598.6 66.3L604.6 66.2L610.6 66L616.7 65.8L622.7 65.7L628.7 65.6L634.7 65.5L640.8 65.5L646.8 65.5L652.8 65.6L658.8 65.9L664.8 66.2L670.8 66.6L676.7 67.2L682.7 67.8L688.7 68.5L694.6 69.3L700.6 70.1L706.6 70.9L712.5 71.8L718.5 72.6L724.5 73.4L730.5 74.2L736.4 75.1L742.3 76.2L748.2 77.6L754 79.2L759.7 81.1L765.3 83.4L770.7 86.1L775.8 89.2L780.6 92.8L785.2 96.6L789.6 100.8L793.7 105.2L797.5 109.9L801.2 114.7L804.6 119.6L807.9 124.7L811 129.8L814 135L816.9 140.3L819.8 145.5L822.6 150.9L825.4 156.2L828.3 161.6L831.2 167L834.3 172.2L837.6 177.2L841.3 181.9L845.5 186L850.1 189.4L855.4 192.2L861 194.4L866.8 196.2L872.7 197.9L878.5 199.5L884.3 201.2L889.9 203L895.5 205L901.1 206.8L906.9 208.4L912.7 209.9L918.5 211.3L924.4 212.6L930.3 213.9L936.2 215.2L942.1 216.6L948 218L953.8 219.5L959.7 221.1L965.4 222.8L971.1 224.6L976.8 226.6L982.5 228.6L988.1 230.8L993.6 233.1L999.2 235.4L1004.6 237.8L1010.1 240.3L1015.5 242.9L1020.9 245.6L1026.3 248.3L1031.7 251.1L1037 253.9L1042.3 256.8L1047.6 259.8L1052.8 262.8L1058.1 265.8L1063.3 268.9L1068.5 272L1073.7 275.1L1078.9 278.2L1084 281.4L1089.1 284.6L1094.2 287.9L1099.2 291.3L1104.2 294.6L1109.2 298.1L1114 301.6L1118.8 305.3L1123.5 309L1128.2 312.8L1132.7 316.7L1137.2 320.7L1141.5 324.8L1145.8 329L1149.9 333.3L1154 337.7L1158.1 342.2L1162 346.7L1165.9 351.3L1169.8 355.9L1173.6 360.6L1177.4 365.3L1181.2 370L1184.9 374.8L1188.7 379.5L1192.4 384.3L1196.1 389L1199.8 393.8L1203.5 398.6L1207 403.4L1210.6 408.3L1214 413.2L1217.4 418.1L1220.8 423.1L1224 428.2L1227.2 433.2L1230.4 438.3L1233.5 443.5L1236.6 448.7L1239.6 453.8L1242.6 459.1L1245.6 464.3L1248.5 469.6L1251.4 474.8L1254.3 480.1L1257.2 485.4L1260.1 490.7L1262.9 496L1265.8 501.3L1268.6 506.6L1271.5 511.9L1274.4 517.2L1277.3 522.5L1280.2 527.8L1283.1 533L1286 538.3L1289 543.5L1291.9 548.8L1294.9 554L1297.8 559.2L1300.8 564.5L1303.7 569.7L1306.7 575L1309.6 580.2L1312.5 585.5L1315.4 590.8L1318.3 596.1L1321.1 601.3L1323.9 606.7L1326.7 612L1329.5 617.3L1332.2 622.7L1335 628.1L1337.7 633.4L1340.5 638.8L1343.3 644.1L1346.1 649.4L1349 654.7L1351.9 660L1354.8 665.2L1357.9 670.4L1360.9 675.5L1364 680.7L1367.1 685.9L1370.1 691.1L1373.2 696.2L1376.2 701.4L1379.2 706.6L1382.2 711.8L1385.2 717L1388.2 722.3L1391.1 727.5L1394.1 732.7L1397 738L1399.9 743.2L1402.9 748.5L1405.8 753.8L1408.7 759L1411.5 764.3L1414.4 769.6L1417.3 774.9L1420.1 780.3L1423 785.6L1425.9 790.9L1428.8 796.2L1431.7 801.4L1434.7 806.7L1437.6 811.9L1440.7 817.1L1443.8 822.2L1446.9 827.4L1450.1 832.4L1453.4 837.5L1456.8 842.4L1460.2 847.3L1463.7 852.2L1467.4 856.9L1471.1 861.6L1474.9 866.3L1478.9 870.8L1483 875.2L1487.2 879.6L1491.5 883.8L1495.9 888L1500.4 892L1505 895.9L1509.7 899.8L1514.5 903.4L1519.4 907L1524.3 910.4L1529.4 913.7L1534.5 916.8L1539.8 919.8L1545 922.6L1550.4 925.3L1555.9 927.8L1561.4 930.1L1566.9 932.2L1572.6 934.2L1581.2 934.2L1575.5 932.2L1570 930.1L1564.5 927.8L1559 925.3L1553.6 922.6L1548.4 919.8L1543.1 916.8L1538 913.7L1532.9 910.4L1528 907L1523.1 903.4L1518.3 899.8L1513.6 895.9L1509 892L1504.5 888L1500.1 883.8L1495.8 879.6L1491.6 875.2L1487.5 870.8L1483.5 866.3L1479.7 861.6L1476 856.9L1472.3 852.2L1468.8 847.3L1465.4 842.4L1462 837.5L1458.7 832.4L1455.5 827.4L1452.4 822.2L1449.3 817.1L1446.2 811.9L1443.3 806.7L1440.3 801.4L1437.4 796.2L1434.5 790.9L1431.6 785.6L1428.7 780.3L1425.9 774.9L1423 769.6L1420.1 764.3L1417.3 759L1414.4 753.8L1411.5 748.5L1408.5 743.2L1405.6 738L1402.7 732.7L1399.7 727.5L1396.8 722.3L1393.8 717L1390.8 711.8L1387.8 706.6L1384.8 701.4L1381.8 696.2L1378.7 691.1L1375.7 685.9L1372.6 680.7L1369.5 675.5L1366.5 670.4L1363.4 665.2L1360.5 660L1357.6 654.7L1354.7 649.4L1351.9 644.1L1349.1 638.8L1346.3 633.4L1343.6 628.1L1340.8 622.7L1338.1 617.3L1335.3 612L1332.5 606.7L1329.7 601.3L1326.9 596.1L1324 590.8L1321.1 585.5L1318.2 580.2L1315.3 575L1312.3 569.7L1309.4 564.5L1306.4 559.2L1303.5 554L1300.5 548.8L1297.6 543.5L1294.6 538.3L1291.7 533L1288.8 527.8L1285.9 522.5L1283 517.2L1280.1 511.9L1277.2 506.6L1274.4 501.3L1271.5 496L1268.7 490.7L1265.8 485.4L1262.9 480.1L1260 474.8L1257.1 469.6L1254.2 464.3L1251.2 459.1L1248.2 453.8L1245.2 448.7L1242.1 443.5L1239 438.3L1235.8 433.2L1232.6 428.2L1229.4 423.1L1226 418.1L1222.6 413.2L1219.2 408.3L1215.6 403.4L1212.1 398.6L1208.4 393.8L1204.7 389L1201 384.3L1197.3 379.5L1193.5 374.8L1189.8 370L1186 365.3L1182.2 360.6L1178.4 355.9L1174.5 351.3L1170.6 346.7L1166.7 342.2L1162.6 337.7L1158.5 333.3L1154.4 329L1150.1 324.8L1145.8 320.7L1141.3 316.7L1136.8 312.8L1132.1 309L1127.4 305.3L1122.6 301.6L1117.8 298.1L1112.8 294.6L1107.8 291.3L1102.8 287.9L1097.7 284.6L1092.6 281.4L1087.5 278.2L1082.3 275.1L1077.1 272L1071.9 268.9L1066.7 265.8L1061.4 262.8L1056.2 259.8L1050.9 256.8L1045.6 253.9L1040.3 251.1L1034.9 248.3L1029.5 245.6L1024.1 242.9L1018.7 240.3L1013.2 237.8L1007.8 235.4L1002.2 233.1L996.7 230.8L991.1 228.6L985.4 226.6L979.7 224.6L974 222.8L968.3 221.1L962.4 219.5L956.6 218L950.7 216.6L944.8 215.2L938.9 213.9L933 212.6L927.1 211.3L921.3 209.9L915.5 208.4L909.7 206.8L904.1 205L898.5 203L892.9 201.2L887.1 199.5L881.3 197.9L875.4 196.2L869.6 194.4L864 192.2L858.7 189.4L854.1 186L849.9 181.9L846.2 177.2L842.9 172.2L839.8 167L836.9 161.6L834 156.2L831.2 150.9L828.4 145.5L825.5 140.3L822.6 135L819.6 129.8L816.5 124.7L813.2 119.6L809.8 114.7L806.1 109.9L802.3 105.2L798.2 100.8L793.8 96.6L789.2 92.8L784.4 89.2L779.3 86.1L773.9 83.4L768.3 81.1L762.6 79.2L756.8 77.6L750.9 76.2L745 75.1L739.1 74.2L733.1 73.4L727.1 72.6L721.1 71.8L715.2 70.9L709.2 70.1L703.2 69.3L697.3 68.5L691.3 67.8L685.3 67.2L679.4 66.6L673.4 66.2L667.4 65.9L661.4 65.6L655.4 65.5L649.4 65.5L643.3 65.5L637.3 65.6L631.3 65.7L625.3 65.8L619.2 66L613.2 66.2L607.2 66.3L601.1 66.5L595.1 66.6L589.1 66.7L583 66.7L577 66.8L571 66.8L565 66.8L559 66.7L552.9 66.7L546.9 66.6L540.9 66.6L534.9 66.5L528.9 66.4L522.8 66.3L516.8 66.1L510.8 66L504.8 65.9L498.8 65.7L492.8 65.5L486.8 65.4L480.8 65.2L474.7 65.1L468.7 64.9L462.7 64.7L456.7 64.6L450.7 64.4L444.7 64.2L438.7 64.1L432.7 64L426.6 63.8L420.6 63.7L414.6 63.6L408.6 63.5L402.6 63.4L396.6 63.3L390.6 63.3L384.5 63.2L378.5 63.2L372.5 63.2L366.5 63.2L360.5 63.2L354.4 63.3L348.4 63.4L342.4 63.5L336.4 63.6L330.3 63.8L324.3 64Z"/></g>
<g fill="#008000"><path d="M318 59.2L324 59.3L330 59.4L336.1 59.5L342.1 59.6L348.1 59.8L354.1 60L360.1 60.2L366.1 60.4L372.2 60.6L378.2 60.9L384.2 61.2L390.2 61.5L396.2 61.8L402.2 62.1L408.2 62.4L414.2 62.8L420.2 63.1L426.2 63.5L432.2 63.9L438.2 64.2L444.2 64.6L450.2 65.1L456.2 65.5L462.2 65.9L468.2 66.3L468.2 73.3L462.2 72.9L456.2 72.5L450.2 72.1L444.2 71.6L438.2 71.2L432.2 70.9L426.2 70.5L420.2 70.1L414.2 69.8L408.2 69.4L402.2 69.1L396.2 68.8L390.2 68.5L384.2 68.2L378.2 67.9L372.2 67.6L366.1 67.4L360.1 67.2L354.1 67L348.1 66.8L342.1 66.6L336.1 66.5L330 66.4L324 66.3L318 66.2Z"/><path d="M314.5 62.7L320.5 62.8L326.5 62.9L332.6 63L338.6 63.1L344.6 63.3L350.6 63.5L356.6 63.7L362.6 63.9L368.7 64.1L374.7 64.4L380.7 64.7L386.7 65L392.7 65.3L398.7 65.6L404.7 65.9L410.7 66.3L416.7 66.6L422.7 67L428.7 67.4L434.7 67.7L440.7 68.1L446.7 68.6L452.7 69L458.7 69.4L464.7 69.8L471.7 69.8L465.7 69.4L459.7 69L453.7 68.6L447.7 68.1L441.7 67.7L435.7 67.4L429.7 67L423.7 66.6L417.7 66.3L411.7 65.9L405.7 65.6L399.7 65.3L393.7 65L387.7 64.7L381.7 64.4L375.7 64.1L369.6 63.9L363.6 63.7L357.6 63.5L351.6 63.3L345.6 63.1L339.6 63L333.5 62.9L327.5 62.8L321.5 62.7Z"/></g>
<g fill="#ff0000"><path d="M316.6 56.5L322.6 56.4L328.6 56.2L334.7 56.1L340.7 56L346.7 55.9L352.7 55.8L358.7 55.6L364.8 55.5L370.8 55.4L376.8 55.3L382.8 55.1L388.8 55L394.8 54.9L400.8 54.8L406.8 54.7L412.9 54.5L418.9 54.4L424.9 54.3L430.9 54.2L436.9 54L442.9 53.9L448.9 53.8L454.9 53.7L460.9 53.5L466.9 53.4L472.9 53.3L478.9 53.2L484.9 53L490.9 52.9L496.9 52.8L502.9 52.7L508.9 52.5L515 52.4L521 52.3L527 52.2L533 52L539 51.9L545 51.8L551 51.7L557 51.5L563.1 51.4L569.1 51.3L575.1 51.1L581.1 51L587.1 50.9L593.2 50.8L599.2 50.6L605.2 50.5L611.3 50.4L617.3 50.3L623.3 50.1L629.4 50L635.4 49.9L641.4 49.8L647.5 49.8L653.5 49.7L659.5 49.7L665.5 49.6L671.6 49.6L677.6 49.6L683.6 49.7L689.6 49.7L695.6 49.8L701.6 49.9L707.6 50.1L713.6 50.3L719.6 50.5L725.6 50.7L731.5 51L737.5 51.4L743.4 51.7L749.4 52.2L755.3 52.6L761.3 53.2L767.2 53.8L773.2 54.5L779.2 55.4L785.3 56.3L791.3 57.5L797.3 58.8L803.3 60.3L809.1 62.1L814.9 64.1L820.4 66.5L825.7 69.2L830.8 72.2L835.7 75.6L840.2 79.5L844.4 83.7L848.3 88.3L851.9 93.1L855.2 98.1L858.3 103.2L861.2 108.5L863.9 113.9L866.4 119.4L868.7 124.9L870.9 130.5L873 136.2L875 141.9L876.9 147.6L878.8 153.3L880.6 159.1L882.4 164.8L884.2 170.6L885.9 176.3L887.7 182.1L889.5 187.8L891.3 193.5L893.2 199.2L895.1 204.9L897.1 210.5L899.2 216.2L901.4 221.7L903.6 227.3L906 232.8L908.5 238.2L911.2 243.6L913.9 249L916.8 254.3L919.7 259.6L922.8 264.9L926 270.1L929.3 275.2L932.8 280.2L936.7 284.7L941.1 288.8L945.8 292.3L950.9 295.2L956.3 297.5L961.9 298.9L967.7 299.8L973.7 300.3L979.8 300.5L986 300.6L992.1 300.9L998.2 301.4L1004.3 302L1010.4 302.8L1016.4 303.7L1022.4 304.9L1028.3 306.2L1034.2 307.6L1040 309.3L1045.7 311.1L1051.4 313L1057 315.2L1062.5 317.5L1068 320L1073.3 322.7L1078.5 325.5L1083.7 328.5L1088.7 331.7L1093.6 335L1098.5 338.5L1103.3 342.1L1107.9 345.8L1112.5 349.7L1117 353.7L1121.5 357.7L1125.8 361.9L1130.1 366.2L1134.3 370.5L1138.5 375L1142.5 379.5L1146.5 384L1150.5 388.6L1154.4 393.3L1158.3 398L1162 402.7L1165.8 407.5L1169.5 412.2L1173.1 417L1176.7 421.8L1180.3 426.7L1183.8 431.6L1187.3 436.4L1190.7 441.4L1194.1 446.3L1197.4 451.3L1200.6 456.3L1203.9 461.3L1207 466.4L1210.2 471.5L1213.3 476.6L1216.3 481.8L1219.3 487L1222.2 492.2L1225.1 497.5L1228 502.7L1230.8 508.1L1233.6 513.4L1236.3 518.8L1238.9 524.2L1241.6 529.7L1244.1 535.1L1246.7 540.6L1249.2 546.1L1251.6 551.6L1254 557.2L1256.3 562.7L1258.6 568.3L1260.9 573.9L1263.1 579.5L1265.3 585.1L1267.4 590.7L1269.5 596.4L1271.5 602L1273.5 607.6L1275.4 613.3L1277.3 618.9L1279.2 624.6L1281 630.3L1282.8 636L1284.6 641.7L1286.3 647.4L1288.1 653.2L1289.8 658.9L1291.5 664.7L1293.2 670.6L1294.8 676.4L1296.5 682.3L1298.2 688.1L1300 694L1301.9 699.8L1303.9 705.5L1306 711.1L1308.3 716.7L1310.9 722.1L1313.7 727.3L1316.8 732.4L1320.2 737.2L1323.9 741.9L1327.9 746.3L1332.2 750.5L1336.7 754.4L1341.5 758.2L1346.4 761.6L1351.5 764.8L1356.8 767.8L1362.1 770.5L1367.6 772.9L1373.2 775L1378.9 776.9L1384.7 778.6L1390.5 780.1L1396.4 781.3L1402.4 782.4L1408.3 783.4L1414.3 784.3L1420.4 785L1426.4 785.7L1432.4 786.3L1438.4 786.9L1444.4 787.4L1450.4 787.9L1456.4 788.3L1462.4 788.7L1468.4 789.1L1474.4 789.4L1480.4 789.7L1486.4 790L1492.3 790.2L1498.3 790.4L1504.3 790.6L1510.3 790.8L1516.3 790.9L1522.3 790.9L1528.3 791L1534.3 791L1540.3 791L1546.3 791L1552.3 790.9L1558.4 790.9L1564.5 790.8L1570.5 790.6L1570.5 799.2L1564.5 799.4L1558.4 799.5L1552.3 799.5L1546.3 799.6L1540.3 799.6L1534.3 799.6L1528.3 799.6L1522.3 799.5L1516.3 799.5L1510.3 799.4L1504.3 799.2L1498.3 799L1492.3 798.8L1486.4 798.6L1480.4 798.3L1474.4 798L1468.4 797.7L1462.4 797.3L1456.4 796.9L1450.4 796.5L1444.4 796L1438.4 795.5L1432.4 794.9L1426.4 794.3L1420.4 793.6L1414.3 792.9L1408.3 792L1402.4 791L1396.4 789.9L1390.5 788.7L1384.7 787.2L1378.9 785.5L1373.2 783.6L1367.6 781.5L1362.1 779.1L1356.8 776.4L1351.5 773.4L1346.4 770.2L1341.5 766.8L1336.7 763L1332.2 759.1L1327.9 754.9L1323.9 750.5L1320.2 745.8L1316.8 741L1313.7 735.9L1310.9 730.7L1308.3 725.3L1306 719.7L1303.9 714.1L1301.9 708.4L1300 702.6L1298.2 696.7L1296.5 690.9L1294.8 685L1293.2 679.2L1291.5 673.3L1289.8 667.5L1288.1 661.8L1286.3 656L1284.6 650.3L1282.8 644.6L1281 638.9L1279.2 633.2L1277.3 627.5L1275.4 621.9L1273.5 616.2L1271.5 610.6L1269.5 605L1267.4 599.3L1265.3 593.7L1263.1 588.1L1260.9 582.5L1258.6 576.9L1256.3 571.3L1254 565.8L1251.6 560.2L1249.2 554.7L1246.7 549.2L1244.1 543.7L1241.6 538.3L1238.9 532.8L1236.3 527.4L1233.6 522L1230.8 516.7L1228 511.3L1225.1 506.1L1222.2 500.8L1219.3 495.6L1216.3 490.4L1213.3 485.2L1210.2 480.1L1207 475L1203.9 469.9L1200.6 464.9L1197.4 459.9L1194.1 454.9L1190.7 450L1187.3 445L1183.8 440.2L1180.3 435.3L1176.7 430.4L1173.1 425.6L1169.5 420.8L1165.8 416.1L1162 411.3L1158.3 406.6L1154.4 401.9L1150.5 397.2L1146.5 392.6L1142.5 388.1L1138.5 383.6L1134.3 379.1L1130.1 374.8L1125.8 370.5L1121.5 366.3L1117 362.3L1112.5 358.3L1107.9 354.4L1103.3 350.7L1098.5 347.1L1093.6 343.6L1088.7 340.3L1083.7 337.1L1078.5 334.1L1073.3 331.3L1068 328.6L1062.5 326.1L1057 323.8L1051.4 321.6L1045.7 319.7L1040 317.9L1034.2 316.2L1028.3 314.8L1022.4 313.5L1016.4 312.3L1010.4 311.4L1004.3 310.6L998.2 310L992.1 309.5L986 309.2L979.8 309.1L973.7 308.9L967.7 308.4L961.9 307.5L956.3 306.1L950.9 303.8L945.8 300.9L941.1 297.4L936.7 293.3L932.8 288.8L929.3 283.8L926 278.7L922.8 273.5L919.7 268.2L916.8 262.9L913.9 257.6L911.2 252.2L908.5 246.8L906 241.4L903.6 235.9L901.4 230.3L899.2 224.8L897.1 219.1L895.1 213.5L893.2 207.8L891.3 202.1L889.5 196.4L887.7 190.7L885.9 184.9L884.2 179.2L882.4 173.4L880.6 167.7L878.8 161.9L876.9 156.2L875 150.5L873 144.8L870.9 139.1L868.7 133.5L866.4 128L863.9 122.5L861.2 117.1L858.3 111.8L855.2 106.7L851.9 101.7L848.3 96.9L844.4 92.3L840.2 88.1L835.7 84.2L830.8 80.8L825.7 77.8L820.4 75.1L814.9 72.7L809.1 70.7L803.3 68.9L797.3 67.4L791.3 66.1L785.3 64.9L779.2 64L773.2 63.1L767.2 62.4L761.3 61.8L755.3 61.2L749.4 60.8L743.4 60.3L737.5 60L731.5 59.6L725.6 59.3L719.6 59.1L713.6 58.9L707.6 58.7L701.6 58.5L695.6 58.4L689.6 58.3L683.6 58.3L677.6 58.2L671.6 58.2L665.5 58.2L659.5 58.3L653.5 58.3L647.5 58.4L641.4 58.4L635.4 58.5L629.4 58.6L623.3 58.7L617.3 58.9L611.3 59L605.2 59.1L599.2 59.2L593.2 59.4L587.1 59.5L581.1 59.6L575.1 59.7L569.1 59.9L563.1 60L557 60.1L551 60.3L545 60.4L539 60.5L533 60.6L527 60.8L521 60.9L515 61L508.9 61.1L502.9 61.3L496.9 61.4L490.9 61.5L484.9 61.6L478.9 61.8L472.9 61.9L466.9 62L460.9 62.1L454.9 62.3L448.9 62.4L442.9 62.5L436.9 62.6L430.9 62.8L424.9 62.9L418.9 63L412.9 63.1L406.8 63.3L400.8 63.4L394.8 63.5L388.8 63.6L382.8 63.7L376.8 63.9L370.8 64L364.8 64.1L358.7 64.2L352.7 64.4L346.7 64.5L340.7 64.6L334.7 64.7L328.6 64.8L322.6 65L316.6 65.1Z"/><path d="M312.3 60.8L318.3 60.7L324.3 60.5L330.4 60.4L336.4 60.3L342.4 60.2L348.4 60.1L354.4 59.9L360.5 59.8L366.5 59.7L372.5 59.6L378.5 59.4L384.5 59.3L390.5 59.2L396.5 59.1L402.5 59L408.6 58.8L414.6 58.7L420.6 58.6L426.6 58.5L432.6 58.3L438.6 58.2L444.6 58.1L450.6 58L456.6 57.8L462.6 57.7L468.6 57.6L474.6 57.5L480.6 57.3L486.6 57.2L492.6 57.1L498.6 57L504.6 56.8L510.7 56.7L516.7 56.6L522.7 56.5L528.7 56.3L534.7 56.2L540.7 56.1L546.7 56L552.7 55.8L558.8 55.7L564.8 55.6L570.8 55.4L576.8 55.3L582.8 55.2L588.9 55.1L594.9 54.9L600.9 54.8L607 54.7L613 54.6L619 54.4L625.1 54.3L631.1 54.2L637.1 54.1L643.2 54.1L649.2 54L655.2 54L661.2 53.9L667.3 53.9L673.3 53.9L679.3 54L685.3 54L691.3 54.1L697.3 54.2L703.3 54.4L709.3 54.6L715.3 54.8L721.3 55L727.2 55.3L733.2 55.7L739.1 56L745.1 56.5L751 56.9L757 57.5L762.9 58.1L768.9 58.8L774.9 59.7L781 60.6L787 61.8L793 63.1L799 64.6L804.8 66.4L810.6 68.4L816.1 70.8L821.4 73.5L826.5 76.5L831.4 79.9L835.9 83.8L840.1 88L844 92.6L847.6 97.4L850.9 102.4L854 107.5L856.9 112.8L859.6 118.2L862.1 123.7L864.4 129.2L866.6 134.8L868.7 140.5L870.7 146.2L872.6 151.9L874.5 157.6L876.3 163.4L878.1 169.1L879.9 174.9L881.6 180.6L883.4 186.4L885.2 192.1L887 197.8L888.9 203.5L890.8 209.2L892.8 214.8L894.9 220.5L897.1 226L899.3 231.6L901.7 237.1L904.2 242.5L906.9 247.9L909.6 253.3L912.5 258.6L915.4 263.9L918.5 269.2L921.7 274.4L925 279.5L928.5 284.5L932.4 289L936.8 293.1L941.5 296.6L946.6 299.5L952 301.8L957.6 303.2L963.4 304.1L969.4 304.6L975.5 304.8L981.7 304.9L987.8 305.2L993.9 305.7L1000 306.3L1006.1 307.1L1012.1 308L1018.1 309.2L1024 310.5L1029.9 311.9L1035.7 313.6L1041.4 315.4L1047.1 317.3L1052.7 319.5L1058.2 321.8L1063.7 324.3L1069 327L1074.2 329.8L1079.4 332.8L1084.4 336L1089.3 339.3L1094.2 342.8L1099 346.4L1103.6 350.1L1108.2 354L1112.7 358L1117.2 362L1121.5 366.2L1125.8 370.5L1130 374.8L1134.2 379.3L1138.2 383.8L1142.2 388.3L1146.2 392.9L1150.1 397.6L1154 402.3L1157.7 407L1161.5 411.8L1165.2 416.5L1168.8 421.3L1172.4 426.1L1176 431L1179.5 435.9L1183 440.7L1186.4 445.7L1189.8 450.6L1193.1 455.6L1196.3 460.6L1199.6 465.6L1202.7 470.7L1205.9 475.8L1209 480.9L1212 486.1L1215 491.3L1217.9 496.5L1220.8 501.8L1223.7 507L1226.5 512.4L1229.3 517.7L1232 523.1L1234.6 528.5L1237.3 534L1239.8 539.4L1242.4 544.9L1244.9 550.4L1247.3 555.9L1249.7 561.5L1252 567L1254.3 572.6L1256.6 578.2L1258.8 583.8L1261 589.4L1263.1 595L1265.2 600.7L1267.2 606.3L1269.2 611.9L1271.1 617.6L1273 623.2L1274.9 628.9L1276.7 634.6L1278.5 640.3L1280.3 646L1282 651.7L1283.8 657.5L1285.5 663.2L1287.2 669L1288.9 674.9L1290.5 680.7L1292.2 686.6L1293.9 692.4L1295.7 698.3L1297.6 704.1L1299.6 709.8L1301.7 715.4L1304 721L1306.6 726.4L1309.4 731.6L1312.5 736.7L1315.9 741.5L1319.6 746.2L1323.6 750.6L1327.9 754.8L1332.4 758.7L1337.2 762.5L1342.1 765.9L1347.2 769.1L1352.5 772.1L1357.8 774.8L1363.3 777.2L1368.9 779.3L1374.6 781.2L1380.4 782.9L1386.2 784.4L1392.1 785.6L1398.1 786.7L1404 787.7L1410 788.6L1416.1 789.3L1422.1 790L1428.1 790.6L1434.1 791.2L1440.1 791.7L1446.1 792.2L1452.1 792.6L1458.1 793L1464.1 793.4L1470.1 793.7L1476.1 794L1482.1 794.3L1488 794.5L1494 794.7L1500 794.9L1506 795.1L1512 795.2L1518 795.2L1524 795.3L1530 795.3L1536 795.3L1542 795.3L1548 795.2L1554.1 795.2L1560.2 795.1L1566.2 794.9L1574.8 794.9L1568.8 795.1L1562.7 795.2L1556.6 795.2L1550.6 795.3L1544.6 795.3L1538.6 795.3L1532.6 795.3L1526.6 795.2L1520.6 795.2L1514.6 795.1L1508.6 794.9L1502.6 794.7L1496.6 794.5L1490.7 794.3L1484.7 794L1478.7 793.7L1472.7 793.4L1466.7 793L1460.7 792.6L1454.7 792.2L1448.7 791.7L1442.7 791.2L1436.7 790.6L1430.7 790L1424.7 789.3L1418.6 788.6L1412.6 787.7L1406.7 786.7L1400.7 785.6L1394.8 784.4L1389 782.9L1383.2 781.2L1377.5 779.3L1371.9 777.2L1366.4 774.8L1361.1 772.1L1355.8 769.1L1350.7 765.9L1345.8 762.5L1341 758.7L1336.5 754.8L1332.2 750.6L1328.2 746.2L1324.5 741.5L1321.1 736.7L1318 731.6L1315.2 726.4L1312.6 721L1310.3 715.4L1308.2 709.8L1306.2 704.1L1304.3 698.3L1302.5 692.4L1300.8 686.6L1299.1 680.7L1297.5 674.9L1295.8 669L1294.1 663.2L1292.4 657.5L1290.6 651.7L1288.9 646L1287.1 640.3L1285.3 634.6L1283.5 628.9L1281.6 623.2L1279.7 617.6L1277.8 611.9L1275.8 606.3L1273.8 600.7L1271.7 595L1269.6 589.4L1267.4 583.8L1265.2 578.2L1262.9 572.6L1260.6 567L1258.3 561.5L1255.9 555.9L1253.5 550.4L1251 544.9L1248.4 539.4L1245.9 534L1243.2 528.5L1240.6 523.1L1237.9 517.7L1235.1 512.4L1232.3 507L1229.4 501.8L1226.5 496.5L1223.6 491.3L1220.6 486.1L1217.6 480.9L1214.5 475.8L1211.3 470.7L1208.2 465.6L1204.9 460.6L1201.7 455.6L1198.4 450.6L1195 445.7L1191.6 440.7L1188.1 435.9L1184.6 431L1181 426.1L1177.4 421.3L1173.8 416.5L1170.1 411.8L1166.3 407L1162.6 402.3L1158.7 397.6L1154.8 392.9L1150.8 388.3L1146.8 383.8L1142.8 379.3L1138.6 374.8L1134.4 370.5L1130.1 366.2L1125.8 362L1121.3 358L1116.8 354L1112.2 350.1L1107.6 346.4L1102.8 342.8L1097.9 339.3L1093 336L1088 332.8L1082.8 329.8L1077.6 327L1072.3 324.3L1066.8 321.8L1061.3 319.5L1055.7 317.3L1050 315.4L1044.3 313.6L1038.5 311.9L1032.6 310.5L1026.7 309.2L1020.7 308L1014.7 307.1L1008.6 306.3L1002.5 305.7L996.4 305.2L990.3 304.9L984.1 304.8L978 304.6L972 304.1L966.2 303.2L960.6 301.8L955.2 299.5L950.1 296.6L945.4 293.1L941 289L937.1 284.5L933.6 279.5L930.3 274.4L927.1 269.2L924 263.9L921.1 258.6L918.2 253.3L915.5 247.9L912.8 242.5L910.3 237.1L907.9 231.6L905.7 226L903.5 220.5L901.4 214.8L899.4 209.2L897.5 203.5L895.6 197.8L893.8 192.1L892 186.4L890.2 180.6L888.5 174.9L886.7 169.1L884.9 163.4L883.1 157.6L881.2 151.9L879.3 146.2L877.3 140.5L875.2 134.8L873 129.2L870.7 123.7L868.2 118.2L865.5 112.8L862.6 107.5L859.5 102.4L856.2 97.4L852.6 92.6L848.7 88L844.5 83.8L840 79.9L835.1 76.5L830 73.5L824.7 70.8L819.2 68.4L813.4 66.4L807.6 64.6L801.6 63.1L795.6 61.8L789.6 60.6L783.5 59.7L777.5 58.8L771.5 58.1L765.6 57.5L759.6 56.9L753.7 56.5L747.7 56L741.8 55.7L735.8 55.3L729.9 55L723.9 54.8L717.9 54.6L711.9 54.4L705.9 54.2L699.9 54.1L693.9 54L687.9 54L681.9 53.9L675.9 53.9L669.8 53.9L663.8 54L657.8 54L651.8 54.1L645.7 54.1L639.7 54.2L633.7 54.3L627.6 54.4L621.6 54.6L615.6 54.7L609.5 54.8L603.5 54.9L597.5 55.1L591.4 55.2L585.4 55.3L579.4 55.4L573.4 55.6L567.4 55.7L561.3 55.8L555.3 56L549.3 56.1L543.3 56.2L537.3 56.3L531.3 56.5L525.3 56.6L519.3 56.7L513.2 56.8L507.2 57L501.2 57.1L495.2 57.2L489.2 57.3L483.2 57.5L477.2 57.6L471.2 57.7L465.2 57.8L459.2 58L453.2 58.1L447.2 58.2L441.2 58.3L435.2 58.5L429.2 58.6L423.2 58.7L417.2 58.8L411.1 59L405.1 59.1L399.1 59.2L393.1 59.3L387.1 59.4L381.1 59.6L375.1 59.7L369.1 59.8L363 59.9L357 60.1L351 60.2L345 60.3L339 60.4L332.9 60.5L326.9 60.7L320.9 60.8Z"/></g>
</g>
<g>
<rect x="358" y="650" width="162.2" height="6.8" fill="#008000"/>
<rect x="358.5" y="732.6" width="161.7" height="9.6" fill="#0000ff"/>
<rect x="358" y="818.5" width="162.2" height="6.6" fill="#ff0000"/>
</g>
<g fill="#000">
<rect x="278.7" y="8.2" width="6.4" height="1074.8"/>
<rect x="278.7" y="8.2" width="1313.7" height="9.5"/>
<rect x="1583.2" y="8.2" width="9.2" height="1074.6"/>
<rect x="259" y="1059.8" width="1333.4" height="7"/>
<rect x="259" y="58.4" width="21" height="6.4"/>
<rect x="259" y="258.7" width="21" height="6.4"/>
<rect x="259" y="459.0" width="21" height="6.4"/>
<rect x="259" y="659.2" width="21" height="6.4"/>
<rect x="259" y="859.5" width="21" height="6.4"/>
<rect x="272.2" y="156.8" width="8" height="9.5"/>
<rect x="272.2" y="357.1" width="8" height="9.5"/>
<rect x="272.2" y="557.3" width="8" height="9.5"/>
<rect x="272.2" y="757.6" width="8" height="9.5"/>
<rect x="272.2" y="957.9" width="8" height="9.5"/>
<rect x="603.3" y="1062" width="9.0" height="21.3"/>
<rect x="931.0" y="1062" width="8.0" height="21.3"/>
<rect x="1258.3" y="1062" width="6.4" height="21.3"/>
<rect x="440.6" y="1062" width="9.2" height="10.8"/>
<rect x="768.4" y="1062" width="6.8" height="10.8"/>
<rect x="1094.2" y="1062" width="8.0" height="10.8"/>
<rect x="1420.0" y="1062" width="9.6" height="10.8"/>
</g>
<g>
<text class="b" font-size="66" letter-spacing="1.65" text-anchor="end" transform="translate(247.88 84.25) scale(1.0000 1.0813)">1.0</text>
<text class="b" font-size="66" letter-spacing="1.65" text-anchor="end" transform="translate(247.88 284.53) scale(1.0000 1.0813)">0.8</text>
<text class="b" font-size="66" letter-spacing="1.65" text-anchor="end" transform="translate(247.88 484.81) scale(1.0000 1.0813)">0.6</text>
<text class="b" font-size="66" letter-spacing="1.65" text-anchor="end" transform="translate(247.88 685.09) scale(1.0000 1.0813)">0.4</text>
<text class="b" font-size="66" letter-spacing="1.65" text-anchor="end" transform="translate(247.88 885.37) scale(1.0000 1.0813)">0.2</text>
<text class="b" font-size="66" letter-spacing="1.65" text-anchor="end" transform="translate(247.88 1085.65) scale(1.0000 1.0813)">0.0</text>
</g>
<g>
<text class="b" font-size="66" letter-spacing="3.05" text-anchor="middle" transform="translate(283.62 1151.80) scale(1.0000 1.0139)">0</text>
<text class="b" font-size="66" letter-spacing="3.05" text-anchor="middle" transform="translate(609.33 1151.80) scale(1.0000 1.0139)">200</text>
<text class="b" font-size="66" letter-spacing="3.05" text-anchor="middle" transform="translate(934.52 1151.80) scale(1.0000 1.0139)">400</text>
<text class="b" font-size="66" letter-spacing="3.05" text-anchor="middle" transform="translate(1263.03 1151.80) scale(1.0000 1.0139)">600</text>
<text class="b" font-size="66" letter-spacing="3.05" text-anchor="middle" transform="translate(1589.28 1151.80) scale(1.0000 1.0139)">800</text>
</g>
<g>
<text font-size="68" letter-spacing="3.57" transform="translate(556.02 675.40) scale(1.0096 1.0064)">PAN</text>
<text font-size="68" letter-spacing="1.29" transform="translate(556.02 760.65) scale(1.0000 1.0466)">M85.7</text>
<text font-size="68" letter-spacing="1.75" transform="scale(1 1.0077)"><tspan x="556.02" y="839.92">MAPbI</tspan><tspan x="763.65" y="858.65" font-size="48.4">3</tspan><tspan x="787.47" y="839.22"> powder</tspan></text>
</g>
<text font-size="90" letter-spacing="0.60" transform="translate(82.33 736.05) rotate(-90) scale(0.9905 0.9917)">Weight (%)</text>
<text transform="scale(0.940 1)"><tspan x="872.42" y="1269.72" font-size="96.8">T</tspan><tspan x="932.82" y="1267.17" font-size="88.7"> (</tspan><tspan class="c" x="994.84" y="1272.92" font-size="85.6" stroke="#fff" stroke-width="1.6">℃</tspan><tspan x="1088.38" y="1267.17" font-size="88.4">)</tspan></text>
</svg>
</body>
</html>
